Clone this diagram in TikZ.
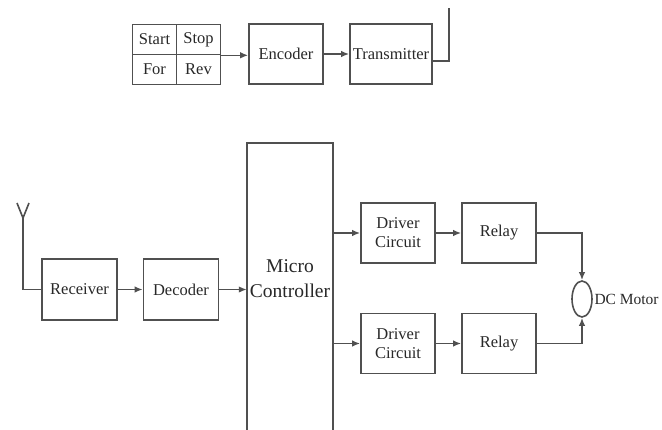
\documentclass[tikz,border=0pt]{standalone}
\usepackage{fontspec}
\setmainfont{Liberation Serif}
\usetikzlibrary{arrows.meta,positioning,shapes.geometric}
\definecolor{linecolor}{RGB}{80,80,80}
\definecolor{textcolor}{RGB}{40,40,40}

\begin{document}
\begin{tikzpicture}[x=1pt,y=-1pt,
  block/.style={draw=linecolor, line width=1.6pt, minimum width=74pt,
                minimum height=60pt, align=center, inner sep=1pt,
                font=\rmfamily\fontsize{16.5}{19}\selectfont, text=textcolor},
  cell/.style={block, minimum width=44pt, minimum height=30pt},
  wire/.style={draw=linecolor, line width=1.6pt},
  arr/.style={wire, -{Latex[length=8pt,width=6.5pt]}}
]
\clip (0,0) rectangle (662,429);

% remote side
\node[cell] (start) at (154.5,39.5) {Start};
\node[cell] (stop)  at (198.5,39.5) {Stop};
\node[cell] (for)   at (154.5,69.5) {For};
\node[cell] (rev)   at (198.5,69.5) {Rev};
\node[block] (enc) at (286,54) {Encoder};
\node[block, minimum width=82pt] (tx) at (391,54) {Transmitter};
\coordinate (txant) at (449,8);

\draw[arr] (stop.south east) -- (enc.west |- stop.south east);
\draw[arr] (enc.east) -- (tx.west);
\draw[wire] ([yshift=-7pt]tx.east) -| (txant);

% receiver side
\node[block, minimum width=75pt, minimum height=61pt] (rx)  at (79.5,289.5) {Receiver};
\node[block, minimum width=75pt, minimum height=61pt] (dec) at (181,289.5) {Decoder};
\node[font=\rmfamily\fontsize{19.5}{25}\selectfont, text=textcolor, align=center,
      minimum width=86pt, inner sep=0pt] (mc) at (290,279) {Micro\\Controller};
\draw[wire] (247,445) |- (333,143) -- (333,445);
\coordinate (anttip) at (23,218);
\draw[wire] (rx.west) -| (anttip);
\draw[wire] (17,203) -- (anttip) -- (29,203);
\draw[arr] (rx.east) -- (dec.west);
\draw[arr] (dec.east) -- (mc.west |- dec.east);

\node[block] (drv1) at (398,233) {Driver\\Circuit};
\node[block] (rel1) at (499,233) {Relay};
\node[block] (drv2) at (398,343.5) {Driver\\Circuit};
\node[block] (rel2) at (499,343.5) {Relay};
\node[ellipse, draw=linecolor, line width=1.6pt, minimum width=20pt,
      minimum height=36pt, inner sep=0pt] (motor) at (582,299) {};
\node[font=\rmfamily\fontsize{15.5}{19}\selectfont, text=textcolor, inner sep=0.5pt,
      right=1pt of motor] (motortxt) {DC Motor};

\draw[arr] (mc.east |- drv1.west) -- (drv1.west);
\draw[arr] (mc.east |- drv2.west) -- (drv2.west);
\draw[arr] (drv1.east) -- (rel1.west);
\draw[arr] (drv2.east) -- (rel2.west);
\draw[arr] (rel1.east) -| (motor.north);
\draw[arr] (rel2.east) -| (motor.south);
\end{tikzpicture}
\end{document}
